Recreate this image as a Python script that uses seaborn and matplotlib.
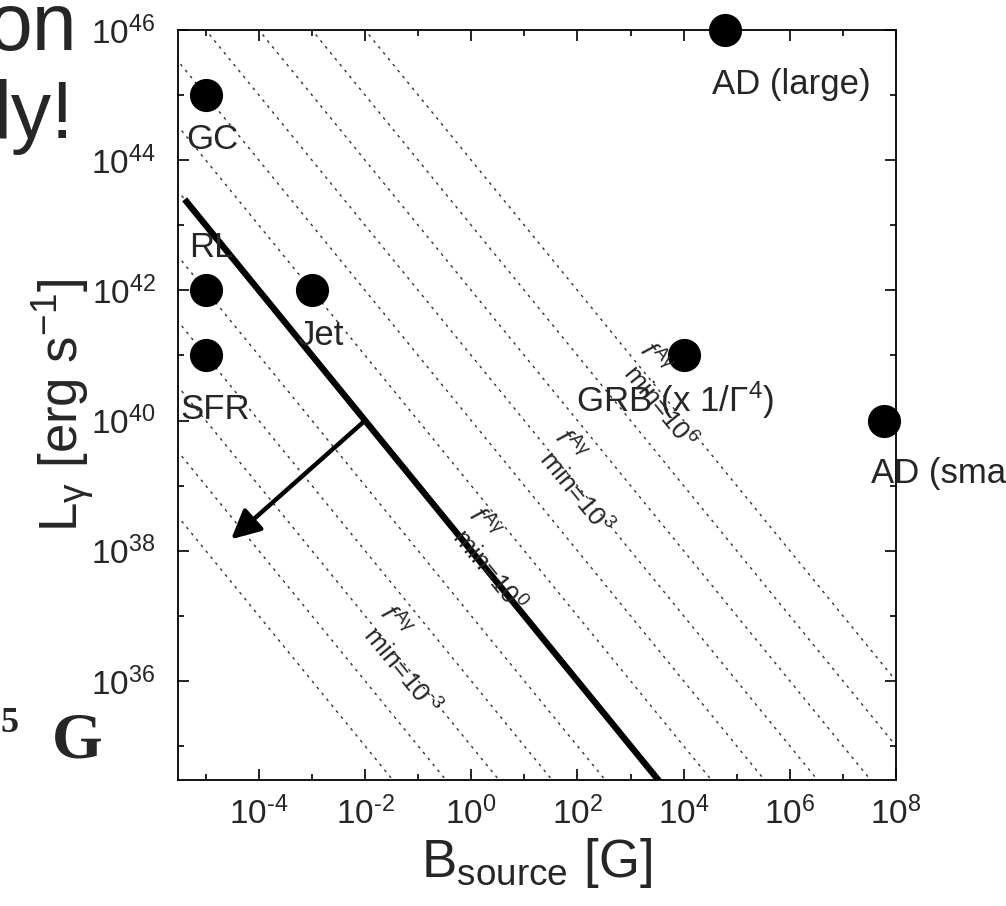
import numpy as np
import matplotlib
matplotlib.use("Agg")
import matplotlib.pyplot as plt
import seaborn as sns
from matplotlib.ticker import FixedLocator, FuncFormatter, NullFormatter

# Source classes: magnetic field [G] and gamma-ray luminosity [erg/s]
sources = ["GC", "RL", "SFR", "Jet", "GRB", "AD (large)", "AD (small)"]
b_source = [1e-5, 1e-5, 1e-5, 1e-3, 1e4, 6e4, 6e7]
l_gamma = [1e45, 1e42, 1e41, 1e42, 1e41, 1e46, 1e40]
source_text = ["GC", "RL", "SFR", "Jet", r"GRB (x 1/$\Gamma^4$)", "AD (large)", "AD (small)"]

# f_min contours: L_gamma * B = lb_norm * f_min
lb_norm = 1e38
f_exponents = list(range(-5, 7))
f_labelled = [-3, 0, 3, 6]

x_major = [1e-4, 1e-2, 1e0, 1e2, 1e4, 1e6, 1e8]
x_minor = [1e-5, 1e-3, 1e-1, 1e1, 1e3, 1e5, 1e7]
y_major = [1e36, 1e38, 1e40, 1e42, 1e44, 1e46]
y_minor = [1e35, 1e37, 1e39, 1e41, 1e43, 1e45]

sns.set_theme(style="ticks")
plt.rcParams.update({
    "font.family": ["Liberation Sans", "DejaVu Sans"],
    "mathtext.fontset": "custom",
    "mathtext.rm": "Liberation Sans",
    "mathtext.it": "Liberation Sans:italic",
    "mathtext.bf": "Liberation Sans:bold",
    "axes.unicode_minus": False,
    "axes.edgecolor": "black",
    "axes.linewidth": 1.3,
})

HYPHEN = "\u2010"


def power_label(value, pos=None):
    exp = int(round(np.log10(value)))
    sign = HYPHEN if exp < 0 else ""
    return r"10$^{\mathregular{%s%d}}$" % (sign, abs(exp))


W, H = 1006, 906
fig = plt.figure(figsize=(W / 100, H / 100), dpi=100)
ax = fig.add_axes([178 / W, 1 - 780 / H, 718 / W, 750 / H])
ax.set_xscale("log")
ax.set_yscale("log")
ax.set_xlim(3e-6, 1e8)
ax.set_ylim(3e34, 1e46)

# dotted f_min contours, one per decade of L*B
b_grid = np.logspace(-7, 9, 200)
for k in f_exponents:
    ax.plot(b_grid, lb_norm * 10.0 ** k / b_grid, color="#333333", lw=1.0,
            linestyle=(0, (2.0, 3.5)), zorder=1)

# thick f_min = 1 boundary
b_edge = np.logspace(np.log10(4e-6), 6, 50)
ax.plot(b_edge, lb_norm / b_edge, color="black", lw=4.6, solid_capstyle="butt", zorder=3)

# arrow towards the allowed region
ax.annotate("", xy=(3e-5, 1.5e38), xytext=(1e-2, 1e40),
            arrowprops=dict(arrowstyle="-|>,head_length=0.8,head_width=0.4",
                            lw=3.2, color="black", shrinkA=0, shrinkB=0,
                            mutation_scale=22),
            zorder=4)

sns.scatterplot(x=b_source, y=l_gamma, s=570, color="black", linewidth=0,
                ax=ax, zorder=5, clip_on=False, legend=False)

# source labels (log10 B, log10 L, horizontal alignment)
label_pos = {
    "GC": (-4.87, 44.31, "center"),
    "RL": (-4.89, 42.66, "center"),
    "SFR": (-4.82, 40.17, "center"),
    "Jet": (-2.83, 41.31, "center"),
    "GRB": (3.84, 40.31, "center"),
    "AD (large)": (6.02, 45.17, "center"),
    "AD (small)": (7.52, 39.18, "left"),
}
for name, txt in zip(sources, source_text):
    lx, ly, ha = label_pos[name]
    ax.text(10 ** lx, 10 ** ly, txt, fontsize=25, ha=ha, va="center", zorder=6)

# contour labels, written along the dotted lines
f_label_pos = {6: (3.70, 40.38), 3: (2.10, 39.05), 0: (0.48, 37.85), -3: (-1.16, 36.31)}
for k in f_labelled:
    lx, ly = f_label_pos[k]
    sign = HYPHEN if k < 0 else ""
    ax.text(10 ** lx, 10 ** ly,
            r"$f^{\mathregular{A\gamma}}$" + "\n" + r" min=10$^{\mathregular{%s%d}}$" % (sign, abs(k)),
            fontsize=19, rotation=-50.8, rotation_mode="anchor",
            ha="center", va="center", multialignment="left",
            linespacing=0.95, zorder=6)

ax.xaxis.set_major_locator(FixedLocator(x_major))
ax.xaxis.set_minor_locator(FixedLocator(x_minor))
ax.yaxis.set_major_locator(FixedLocator(y_major))
ax.yaxis.set_minor_locator(FixedLocator(y_minor))
ax.xaxis.set_major_formatter(FuncFormatter(power_label))
ax.yaxis.set_major_formatter(FuncFormatter(power_label))
ax.xaxis.set_minor_formatter(NullFormatter())
ax.yaxis.set_minor_formatter(NullFormatter())

ax.tick_params(which="both", direction="in", top=True, right=True, color="black", width=1.2)
ax.tick_params(which="major", length=8, labelsize=24)
ax.tick_params(which="minor", length=4.5)
ax.tick_params(axis="x", which="major", pad=12)
ax.tick_params(axis="y", which="major", pad=16)
for sp in ax.spines.values():
    sp.set_visible(True)
    sp.set_color("black")

ax.set_xlabel(r"B$_{\mathrm{source}}$ [G]", fontsize=38)
ax.set_ylabel(r"L$_{\mathrm{\gamma}}$ [erg s$^{\mathrm{-1}}$]", fontsize=38)
ax.xaxis.set_label_coords(0.5, -0.075)
ax.yaxis.set_label_coords(-0.113, 0.5)

# fragments of the surrounding slide text
fig.text(77 / W, 1 - 50 / H, "on", fontsize=58, ha="right", va="baseline")
fig.text(74 / W, 1 - 138 / H, "ly!", fontsize=58, ha="right", va="baseline")
fig.text(19 / W, 1 - 732 / H, "5", fontsize=26, ha="right", va="baseline",
         family="Liberation Serif", weight="bold")
fig.text(52 / W, 1 - 757 / H, "G", fontsize=47, ha="left", va="baseline",
         family="Liberation Serif", weight="bold")

fig.savefig("out.png", dpi=100, facecolor="white")
